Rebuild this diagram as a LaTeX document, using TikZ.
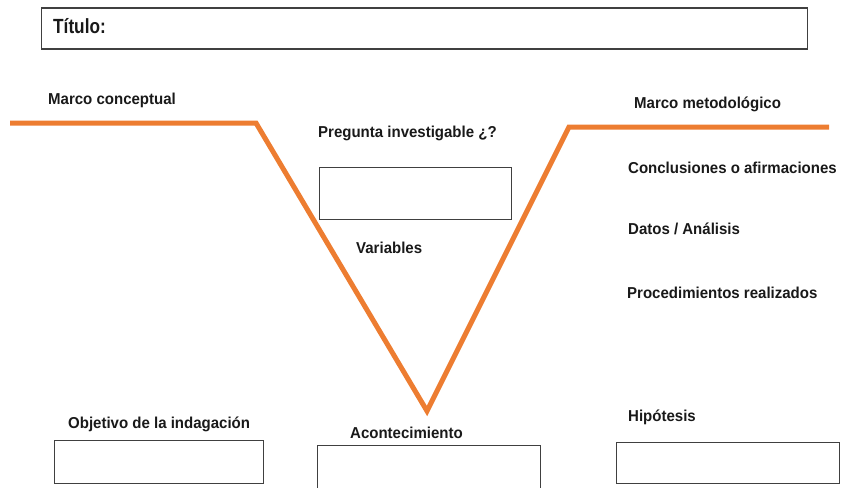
\documentclass[tikz,border=0pt]{standalone}
\usepackage{fontspec}
\setmainfont{Liberation Sans}
\newfontfamily\titlefont{Liberation Sans}[FakeStretch=0.84]
\newfontfamily\bodyfont{Liberation Sans}[FakeStretch=0.95]
\definecolor{vorange}{HTML}{ED7D31}
\definecolor{boxgray}{HTML}{404040}
\tikzset{
  lbl/.style={anchor=base west, inner sep=0pt, font=\bodyfont\bfseries\fontsize{15.8}{18}\selectfont, text=black!90},
  ttl/.style={anchor=base west, inner sep=0pt, font=\titlefont\bfseries\fontsize{20.5}{24}\selectfont, text=black!90},
  emptybox/.style={draw=boxgray, line width=1.2pt, fill=white, inner sep=0pt},
  vline/.style={draw=vorange, line width=5pt, line join=miter}
}
\begin{document}
\begin{tikzpicture}[x=1pt,y=-1pt]
\useasboundingbox (0,0) rectangle (842,487);
% title box
\node[emptybox, minimum width=766pt, minimum height=41pt, anchor=north west] (titlebox) at (41,7.5) {};
\node[ttl] (titulo) at (53,34) {Título:};
% V line
\coordinate (l0) at (10,123);
\coordinate (l1) at (256,123);
\coordinate (apex) at (427,411);
\coordinate (r1) at (569,127);
\coordinate (r0) at (829,127);
\draw[vline] (l0) -- (l1) -- (apex) -- (r1) -- (r0);
% labels
\node[lbl] (mconc) at (48,104) {Marco conceptual};
\node[lbl] (mmet) at (634,108) {Marco metodológico};
\node[lbl] (preg) at (318,137) {Pregunta investigable ¿?};
\node[emptybox, minimum width=192pt, minimum height=52pt, anchor=north west] (pregbox) at (319,167) {};
\node[lbl] (vars) at (356,253) {Variables};
\node[lbl] (concl) at (628,173) {Conclusiones o afirmaciones};
\node[lbl] (datos) at (628,234) {Datos / Análisis};
\node[lbl] (proc) at (627,298) {Procedimientos realizados};
\node[lbl] (hip) at (628,421) {Hipótesis};
\node[lbl] (obj) at (68,428) {Objetivo de la indagación};
\node[lbl] (acon) at (350,438) {Acontecimiento};
% bottom boxes
\node[emptybox, minimum width=209pt, minimum height=43pt, anchor=north west] (objbox) at (54,440) {};
\node[emptybox, minimum width=223pt, minimum height=50pt, anchor=north west] (aconbox) at (317,445) {};
\node[emptybox, minimum width=223pt, minimum height=41pt, anchor=north west] (hipbox) at (616,442) {};
\end{tikzpicture}
\end{document}
